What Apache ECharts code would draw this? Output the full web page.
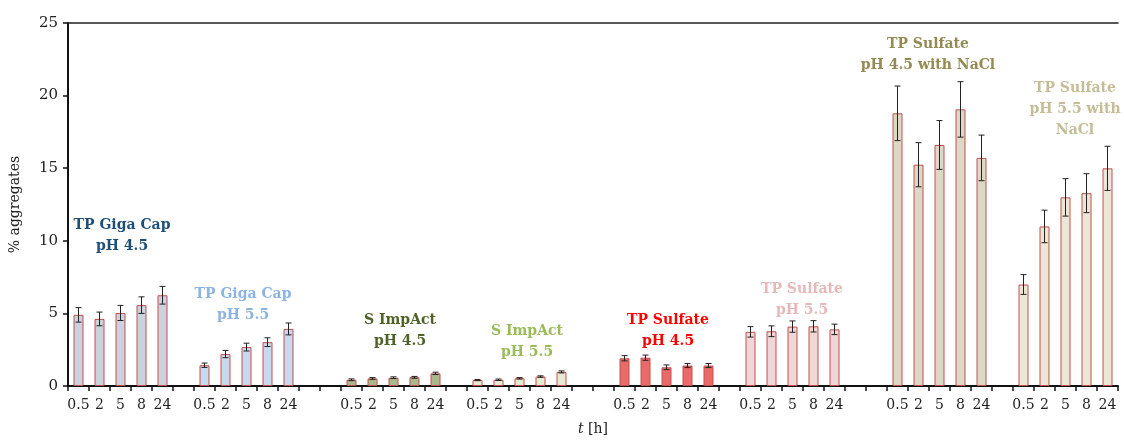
<!DOCTYPE html>
<html>
<head>
<meta charset="utf-8">
<script src="https://cdn.jsdelivr.net/npm/echarts@6/dist/echarts.min.js"></script>
<style>html,body{margin:0;padding:0;background:#fff}#c{width:1124px;height:441px}</style>
</head>
<body>
<div id="c"></div>
<script>
// ---- data ----
const timeLabels = ['0.5', '2', '5', '8', '24'];
const groupNames = [
  'TP Giga Cap\npH 4.5',
  'TP Giga Cap\npH 5.5',
  'S ImpAct\npH 4.5',
  'S ImpAct\npH 5.5',
  'TP Sulfate\npH 4.5',
  'TP Sulfate\npH 5.5',
  'TP Sulfate\npH 4.5 with NaCl',
  'TP Sulfate\npH 5.5 with\nNaCl'
];
const gigaCap45 = [4.9, 4.62, 5.03, 5.57, 6.25];
const gigaCap55 = [1.43, 2.2, 2.68, 3.02, 3.93];
const impAct45 = [0.43, 0.52, 0.57, 0.6, 0.87];
const impAct55 = [0.41, 0.43, 0.53, 0.65, 0.97];
const sulfate45 = [1.91, 1.95, 1.29, 1.41, 1.41];
const sulfate55 = [3.73, 3.77, 4.09, 4.11, 3.9];
const sulfate45NaCl = [18.78, 15.24, 16.6, 19.05, 15.71];
const sulfate55NaCl = [6.99, 10.99, 12.99, 13.28, 14.99];
const gigaCap45Err = [0.5, 0.47, 0.52, 0.57, 0.61];
const gigaCap55Err = [0.15, 0.25, 0.27, 0.3, 0.41];
const impAct45Err = [0.06, 0.06, 0.06, 0.06, 0.08];
const impAct55Err = [0.04, 0.05, 0.05, 0.05, 0.07];
const sulfate45Err = [0.18, 0.18, 0.16, 0.14, 0.14];
const sulfate55Err = [0.36, 0.37, 0.39, 0.39, 0.36];
const sulfate45NaClErr = [1.88, 1.52, 1.68, 1.91, 1.57];
const sulfate55NaClErr = [0.68, 1.12, 1.29, 1.34, 1.52];
const gapsAfter = [1, 2, 1, 2, 1, 2, 1, 0]; // empty category slots after each group
const yTicks = [0, 5, 10, 15, 20, 25];

// ---- styling (not data) ----
const groupValues = [gigaCap45, gigaCap55, impAct45, impAct55, sulfate45, sulfate55, sulfate45NaCl, sulfate55NaCl];
const groupErrors = [gigaCap45Err, gigaCap55Err, impAct45Err, impAct55Err, sulfate45Err, sulfate55Err, sulfate45NaClErr, sulfate55NaClErr];
const fillColors = ['#cbd2de', '#c8d8ee', '#a9b78c', '#e6e9d3', '#ea6a6a', '#f0d6d6', '#dcd8c5', '#ebe6d6'];
const labelColors = ['#1f4e79', '#8db3e2', '#4f6228', '#9bbb59', '#ff0000', '#e6b9b8', '#948a54', '#c4bd97'];
const labelY = [10.35, 5.62, 3.78, 3.03, 3.81, 5.93, 22.82, 19.07];
const labelDx = [1.5, -3.5, 6.5, 7.5, 1.5, 9.5, -11.5, 9.5];

// build categories
const categories = [];
const barData = [];
const errData = [];
const groupCenter = [];
groupValues.forEach((vals, g) => {
  const start = categories.length;
  groupCenter.push(start + 2);
  vals.forEach((v, i) => {
    const idx = categories.length;
    categories.push(timeLabels[i]);
    barData.push({ value: v, itemStyle: { color: fillColors[g] } });
    errData.push([idx, v, groupErrors[g][i]]);
  });
  for (let k = 0; k < gapsAfter[g]; k++) {
    categories.push('');
    barData.push('-');
  }
});

const labelData = groupNames.map((n, g) => ({
  value: [groupCenter[g], labelY[g]],
  itemStyle: { opacity: 1 },
  label: {
    show: true, position: 'inside', formatter: n, offset: [labelDx[g], 0], opacity: 1,
    color: labelColors[g], fontFamily: 'DejaVu Serif', fontWeight: 'bold', fontSize: 14, lineHeight: 21
  }
}));

const chart = echarts.init(document.getElementById('c'), null, { renderer: 'canvas' });
chart.setOption({
  animation: false,
  grid: { left: 68, right: 6, top: 23, bottom: 51 },
  xAxis: [{
    type: 'category',
    data: categories,
    boundaryGap: true,
    axisLine: { lineStyle: { color: '#111', width: 2 } },
    axisTick: { show: true, interval: 0, length: 5, lineStyle: { color: '#111', width: 1.5 } },
    axisLabel: { interval: 0, color: '#222', fontFamily: 'DejaVu Serif', fontSize: 14, margin: 12 },
    name: '{i|t} [h]',
    nameLocation: 'middle',
    nameGap: 36,
    nameTextStyle: {
      fontFamily: 'DejaVu Serif', fontSize: 14, color: '#222',
      rich: { i: { fontStyle: 'italic', fontFamily: 'DejaVu Serif', fontSize: 14, color: '#222' } }
    }
  }, {
    type: 'category',
    position: 'top',
    data: categories,
    axisLine: { show: true, lineStyle: { color: '#222', width: 1.5 } },
    axisTick: { show: false },
    axisLabel: { show: false }
  }],
  yAxis: {
    type: 'value',
    min: yTicks[0],
    max: yTicks[yTicks.length - 1],
    interval: 5,
    splitLine: { show: false },
    axisLine: { show: true, lineStyle: { color: '#111', width: 2 } },
    axisTick: { show: true, length: 5, lineStyle: { color: '#111', width: 1.5 } },
    axisLabel: { color: '#222', fontFamily: 'DejaVu Serif', fontSize: 15, margin: 10 },
    name: '% aggregates',
    nameLocation: 'middle',
    nameGap: 46,
    nameTextStyle: { fontFamily: 'DejaVu Serif', fontSize: 14, color: '#222' }
  },
  series: [{
    type: 'bar',
    data: barData,
    barWidth: 10,
    itemStyle: { borderColor: '#c0504d', borderWidth: 1 }
  }, {
    type: 'custom',
    data: errData,
    z: 5,
    renderItem: function (params, api) {
      const x = api.value(0), v = api.value(1), e = api.value(2);
      const hi = api.coord([x, v + e]);
      const lo = api.coord([x, v - e]);
      const w = 3;
      const st = { stroke: '#222', lineWidth: 1 };
      return {
        type: 'group',
        children: [
          { type: 'line', shape: { x1: hi[0], y1: hi[1], x2: lo[0], y2: lo[1] }, style: st },
          { type: 'line', shape: { x1: hi[0] - w, y1: hi[1], x2: hi[0] + w, y2: hi[1] }, style: st },
          { type: 'line', shape: { x1: lo[0] - w, y1: lo[1], x2: lo[0] + w, y2: lo[1] }, style: st }
        ]
      };
    }
  }, {
    type: 'scatter',
    data: labelData,
    symbolSize: 0,
    z: 10
  }]
});
</script>
</body>
</html>
